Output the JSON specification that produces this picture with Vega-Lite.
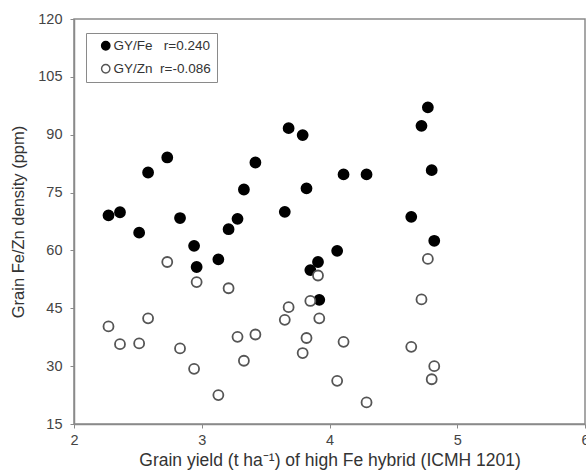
{
  "$schema": "https://vega.github.io/schema/vega-lite/v6.json",
  "width": 511,
  "height": 405,
  "autosize": {"type": "none"},
  "padding": {"left": 74, "top": 19, "right": 1, "bottom": 52},
  "background": "white",
  "config": {
    "font": "Liberation Sans",
    "view": {"stroke": "#8a8a8a", "strokeWidth": 1.5},
    "axis": {
      "grid": false,
      "domainColor": "#8a8a8a",
      "domainWidth": 1.5,
      "tickColor": "#8a8a8a",
      "tickSize": 4,
      "labelColor": "#444444",
      "labelFontSize": 14.5,
      "titleColor": "#333333",
      "titleFontSize": 17.5,
      "titleFontWeight": "normal",
      "labelFont": "Liberation Sans",
      "titleFont": "Liberation Sans"
    }
  },
  "data": {
    "values": [
      {"x": 2.27, "y": 69.1, "s": "Fe"},
      {"x": 2.36, "y": 69.9, "s": "Fe"},
      {"x": 2.51, "y": 64.6, "s": "Fe"},
      {"x": 2.58, "y": 80.2, "s": "Fe"},
      {"x": 2.73, "y": 84.1, "s": "Fe"},
      {"x": 2.83, "y": 68.4, "s": "Fe"},
      {"x": 2.94, "y": 61.2, "s": "Fe"},
      {"x": 2.96, "y": 55.7, "s": "Fe"},
      {"x": 3.13, "y": 57.7, "s": "Fe"},
      {"x": 3.21, "y": 65.5, "s": "Fe"},
      {"x": 3.28, "y": 68.2, "s": "Fe"},
      {"x": 3.33, "y": 75.8, "s": "Fe"},
      {"x": 3.42, "y": 82.8, "s": "Fe"},
      {"x": 3.65, "y": 70.0, "s": "Fe"},
      {"x": 3.68, "y": 91.7, "s": "Fe"},
      {"x": 3.79, "y": 89.9, "s": "Fe"},
      {"x": 3.82, "y": 76.1, "s": "Fe"},
      {"x": 3.85, "y": 54.9, "s": "Fe"},
      {"x": 3.91, "y": 57.0, "s": "Fe"},
      {"x": 3.92, "y": 47.2, "s": "Fe"},
      {"x": 4.06, "y": 59.9, "s": "Fe"},
      {"x": 4.11, "y": 79.7, "s": "Fe"},
      {"x": 4.29, "y": 79.7, "s": "Fe"},
      {"x": 4.64, "y": 68.7, "s": "Fe"},
      {"x": 4.72, "y": 92.3, "s": "Fe"},
      {"x": 4.77, "y": 97.1, "s": "Fe"},
      {"x": 4.80, "y": 80.8, "s": "Fe"},
      {"x": 4.82, "y": 62.5, "s": "Fe"},
      {"x": 2.27, "y": 40.3, "s": "Zn"},
      {"x": 2.36, "y": 35.7, "s": "Zn"},
      {"x": 2.51, "y": 35.9, "s": "Zn"},
      {"x": 2.58, "y": 42.4, "s": "Zn"},
      {"x": 2.73, "y": 57.0, "s": "Zn"},
      {"x": 2.83, "y": 34.6, "s": "Zn"},
      {"x": 2.94, "y": 29.3, "s": "Zn"},
      {"x": 2.96, "y": 51.8, "s": "Zn"},
      {"x": 3.13, "y": 22.5, "s": "Zn"},
      {"x": 3.21, "y": 50.2, "s": "Zn"},
      {"x": 3.28, "y": 37.6, "s": "Zn"},
      {"x": 3.33, "y": 31.4, "s": "Zn"},
      {"x": 3.42, "y": 38.2, "s": "Zn"},
      {"x": 3.65, "y": 42.0, "s": "Zn"},
      {"x": 3.68, "y": 45.3, "s": "Zn"},
      {"x": 3.79, "y": 33.4, "s": "Zn"},
      {"x": 3.82, "y": 37.3, "s": "Zn"},
      {"x": 3.85, "y": 46.9, "s": "Zn"},
      {"x": 3.91, "y": 53.5, "s": "Zn"},
      {"x": 3.92, "y": 42.4, "s": "Zn"},
      {"x": 4.06, "y": 26.2, "s": "Zn"},
      {"x": 4.11, "y": 36.3, "s": "Zn"},
      {"x": 4.29, "y": 20.6, "s": "Zn"},
      {"x": 4.64, "y": 35.0, "s": "Zn"},
      {"x": 4.72, "y": 47.3, "s": "Zn"},
      {"x": 4.77, "y": 57.8, "s": "Zn"},
      {"x": 4.80, "y": 26.6, "s": "Zn"},
      {"x": 4.82, "y": 30.0, "s": "Zn"}
    ]
  },
  "mark": {"type": "point", "shape": "circle", "filled": true, "size": 100, "strokeWidth": 1.8, "opacity": 1},
  "encoding": {
    "x": {
      "field": "x", "type": "quantitative",
      "scale": {"domain": [2, 6], "nice": false, "zero": false},
      "axis": {"values": [2, 3, 4, 5, 6], "title": "Grain yield (t ha\u207b\u00b9) of high Fe hybrid (ICMH 1201)", "labelPadding": 5, "titlePadding": 5, "labelFlush": false}
    },
    "y": {
      "field": "y", "type": "quantitative",
      "scale": {"domain": [15, 120], "nice": false, "zero": false},
      "axis": {"values": [15, 30, 45, 60, 75, 90, 105, 120], "title": "Grain Fe/Zn density (ppm)", "titleFontSize": 16.5, "labelPadding": 8, "titlePadding": 11, "labelFlush": false}
    },
    "fill": {
      "field": "s", "type": "nominal",
      "scale": {"domain": ["Fe", "Zn"], "range": ["#000000", "#ffffff"]},
      "legend": {
        "title": null, "orient": "none", "legendX": 12, "legendY": 14,
        "labelExpr": "datum.value == 'Fe' ? 'GY/Fe\u00a0\u00a0 r=0.240\u00a0\u00a0\u00a0\u00a0\u00a0\u00a0\u00a0' : 'GY/Zn\u00a0 r=-0.086\u00a0\u00a0\u00a0\u00a0\u00a0\u00a0\u00a0'",
        "strokeColor": "#8a8a8a", "padding": 6, "fillColor": "white",
        "labelFontSize": 13.5, "labelColor": "#333333", "labelFont": "Liberation Sans",
        "symbolSize": 70, "symbolStrokeWidth": 1.4, "rowPadding": 8, "labelOffset": 1, "symbolOffset": 7
      }
    },
    "stroke": {
      "field": "s", "type": "nominal",
      "scale": {"domain": ["Fe", "Zn"], "range": ["#000000", "#555555"]},
      "legend": null
    }
  }
}
